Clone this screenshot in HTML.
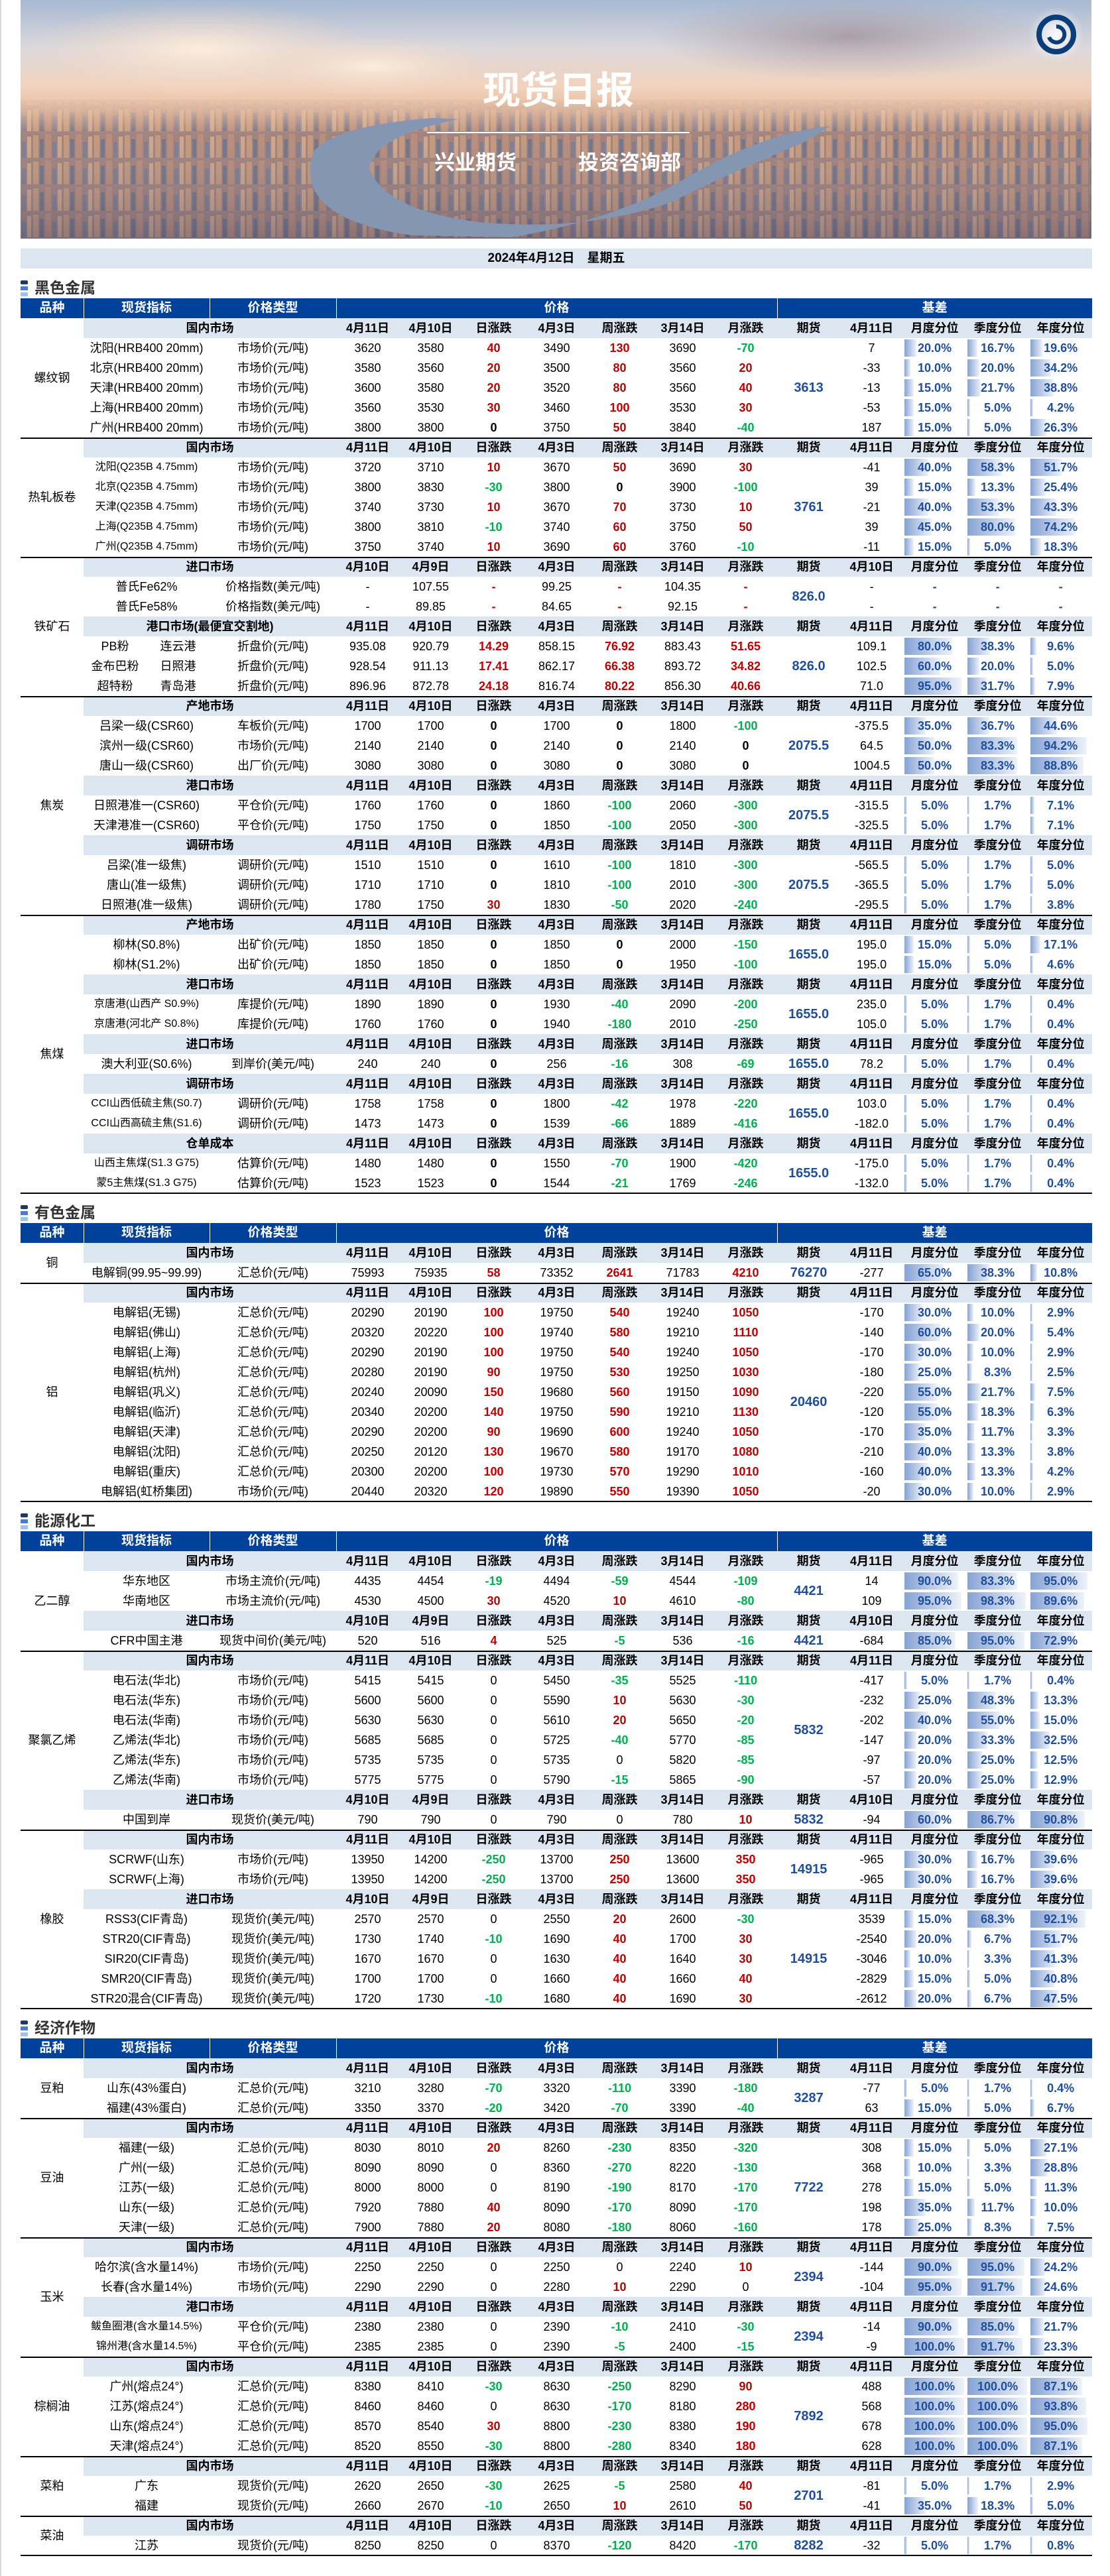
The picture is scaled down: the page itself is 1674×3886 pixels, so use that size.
<!DOCTYPE html>
<html><head><meta charset="utf-8">
<style>
*{margin:0;padding:0;box-sizing:border-box}
body{width:1674px;height:3886px;background:#fff;position:relative;font-family:"Liberation Sans","Noto Sans CJK SC",sans-serif;overflow:hidden;border-left:2px solid #d8d8d8}
.abs{position:absolute}
.date{left:29px;top:375px;width:1616px;height:30px;background:#dce6f1;text-align:center;font-weight:bold;font-size:19px;line-height:30px}
.ttl{left:29px;height:32px;font-size:23px;font-weight:bold;color:#333;line-height:32px;padding-left:21px}
.ttl i{position:absolute;left:0;width:11px;height:6px}
.ttl .a{top:5px;background:#1f3864;border-radius:2px}
.ttl .b{top:14px;background:#4a7bd0}
.ttl .c{top:23px;background:#9dc3e6}
table{position:absolute;left:29px;width:1616px;border-collapse:collapse;table-layout:fixed;font-size:18px}
td{height:30px;padding:0;line-height:24px;text-align:center;vertical-align:middle;white-space:nowrap;overflow:visible}
tr.top td{background:#00419b;color:#fff;font-weight:bold;font-size:19px;box-shadow:inset 1px 0 0 #fff}
tr.top td:first-child{box-shadow:none}
tr.h td{background:#dce6f1;font-weight:bold}
tr.h td.v{background:#fff}
tr.s td{box-shadow:inset 0 2px 0 #000}
.r{color:#c00000;font-weight:bold}
.g{color:#00b050;font-weight:bold}
.z{font-weight:bold}
.f{color:#1f4e9c;font-weight:bold;font-size:20px}
.bd{color:#1f4e9c;font-weight:bold}
td.p{position:relative}
td.p i{position:absolute;left:2px;top:2px;bottom:2px;background:linear-gradient(90deg,#86a3d4,#eef2f9)}
td.p em{position:relative;font-style:normal;color:#1f4e9c;font-weight:bold}
.sm{font-size:16px}
.two span{display:inline-block;width:95px;text-align:center}
.two{text-align:left}
.line{left:29px;width:1616px;height:2px;background:#000}
</style></head><body>

<svg class="abs" style="left:0;top:0" width="1674" height="362" viewBox="0 0 1674 362">
<defs>
<linearGradient id="sky" x1="0" y1="0" x2="0" y2="1">
<stop offset="0" stop-color="#a7b9d2"/><stop offset="0.2" stop-color="#dcd8dc"/><stop offset="0.36" stop-color="#f1d3bd"/><stop offset="0.44" stop-color="#e9c3a9"/><stop offset="0.5" stop-color="#c69c86"/><stop offset="0.75" stop-color="#8c7a82"/><stop offset="1" stop-color="#6f6170"/>
</linearGradient>
<radialGradient id="cl1" cx="0.5" cy="0.5" r="0.5"><stop offset="0" stop-color="#fdeedd" stop-opacity="0.95"/><stop offset="1" stop-color="#f3d6c0" stop-opacity="0"/></radialGradient>
<radialGradient id="cl2" cx="0.5" cy="0.5" r="0.5"><stop offset="0" stop-color="#9a8a94" stop-opacity="0.7"/><stop offset="1" stop-color="#a89aa4" stop-opacity="0"/></radialGradient>
<radialGradient id="lg" cx="0.5" cy="0.5" r="0.5"><stop offset="0" stop-color="#fff" stop-opacity="0.9"/><stop offset="1" stop-color="#fff" stop-opacity="0"/></radialGradient>
<pattern id="city" width="46" height="40" patternUnits="userSpaceOnUse">
<rect width="46" height="40" fill="#9a7f7e"/>
<rect x="2" y="4" width="8" height="34" fill="#c99c7c"/>
<rect x="12" y="10" width="6" height="28" fill="#5f6c88"/>
<rect x="20" y="2" width="9" height="36" fill="#b88d7c"/>
<rect x="31" y="14" width="6" height="24" fill="#6e7894"/>
<rect x="39" y="6" width="6" height="32" fill="#d6ad8e"/>
</pattern>
<linearGradient id="fade" x1="0" y1="0" x2="0" y2="1"><stop offset="0" stop-color="#e9c3a9" stop-opacity="1"/><stop offset="0.25" stop-color="#e9c3a9" stop-opacity="0"/><stop offset="1" stop-color="#5a5068" stop-opacity="0.35"/></linearGradient>
</defs>
<rect x="29" y="0" width="1615" height="360" fill="url(#sky)"/>
<ellipse cx="300" cy="75" rx="260" ry="70" fill="url(#cl1)"/>
<ellipse cx="560" cy="100" rx="180" ry="45" fill="url(#cl1)"/>
<ellipse cx="1280" cy="55" rx="300" ry="65" fill="url(#cl2)"/>
<rect x="29" y="150" width="1615" height="210" fill="url(#city)" opacity="0.75"/>
<rect x="29" y="150" width="1615" height="210" fill="url(#fade)"/>
<path d="M470 230 Q440 330 620 355 L770 358 Q930 330 1030 270 Q1150 200 1250 190 L1210 215 Q1090 265 1010 305 Q880 350 720 335 Q580 318 555 255 Q560 205 690 180 L650 178 Q500 190 470 230Z" fill="#8596b2"/>
<text x="840" y="156" text-anchor="middle" font-family="Liberation Sans,Noto Sans CJK SC,sans-serif" font-size="57" font-weight="bold" fill="#fff">现货日报</text>
<rect x="642" y="199" width="396" height="2" fill="#fff"/>
<text x="653" y="256" font-family="Liberation Sans,Noto Sans CJK SC,sans-serif" font-size="31" font-weight="bold" fill="#fff">兴业期货</text>
<text x="870" y="256" font-family="Liberation Sans,Noto Sans CJK SC,sans-serif" font-size="31" font-weight="bold" fill="#fff">投资咨询部</text>
<circle cx="1591" cy="52" r="42" fill="url(#lg)"/>
<circle cx="1591" cy="52" r="26" fill="none" stroke="#0b3d7a" stroke-width="8"/>
<path d="M1591 40 a12 12 0 1 1 -11 16" fill="none" stroke="#0b3d7a" stroke-width="6"/>
</svg>

<div class="abs date">2024年4月12日　星期五</div>

<div class="abs ttl" style="top:418px"><i class="a"></i><i class="b"></i><i class="c"></i>黑色金属</div>
<table style="top:450px">
<colgroup><col style="width:95px"><col style="width:190px"><col style="width:191px"><col span="12" style="width:95px"></colgroup>
<tr class="top"><td>品种</td><td>现货指标</td><td>价格类型</td><td colspan="7">价格</td><td colspan="5">基差</td></tr>
<tr class="h"><td class="v" rowspan="6" style="font-weight:normal">螺纹钢</td><td colspan="2">国内市场</td><td>4月11日</td><td>4月10日</td><td>日涨跌</td><td>4月3日</td><td>周涨跌</td><td>3月14日</td><td>月涨跌</td><td>期货</td><td>4月11日</td><td>月度分位</td><td>季度分位</td><td>年度分位</td></tr>
<tr><td>沈阳(HRB400 20mm)</td><td>市场价(元/吨)</td><td>3620</td><td>3580</td><td class="r">40</td><td>3490</td><td class="r">130</td><td>3690</td><td class="g">-70</td><td class="f" rowspan="5">3613</td><td>7</td><td class="p"><i style="width:18px"></i><em>20.0%</em></td><td class="p"><i style="width:15px"></i><em>16.7%</em></td><td class="p"><i style="width:18px"></i><em>19.6%</em></td></tr>
<tr><td>北京(HRB400 20mm)</td><td>市场价(元/吨)</td><td>3580</td><td>3560</td><td class="r">20</td><td>3500</td><td class="r">80</td><td>3560</td><td class="r">20</td><td>-33</td><td class="p"><i style="width:9px"></i><em>10.0%</em></td><td class="p"><i style="width:18px"></i><em>20.0%</em></td><td class="p"><i style="width:31px"></i><em>34.2%</em></td></tr>
<tr><td>天津(HRB400 20mm)</td><td>市场价(元/吨)</td><td>3600</td><td>3580</td><td class="r">20</td><td>3520</td><td class="r">80</td><td>3560</td><td class="r">40</td><td>-13</td><td class="p"><i style="width:14px"></i><em>15.0%</em></td><td class="p"><i style="width:20px"></i><em>21.7%</em></td><td class="p"><i style="width:35px"></i><em>38.8%</em></td></tr>
<tr><td>上海(HRB400 20mm)</td><td>市场价(元/吨)</td><td>3560</td><td>3530</td><td class="r">30</td><td>3460</td><td class="r">100</td><td>3530</td><td class="r">30</td><td>-53</td><td class="p"><i style="width:14px"></i><em>15.0%</em></td><td class="p"><i style="width:4px"></i><em>5.0%</em></td><td class="p"><i style="width:4px"></i><em>4.2%</em></td></tr>
<tr><td>广州(HRB400 20mm)</td><td>市场价(元/吨)</td><td>3800</td><td>3800</td><td class="z">0</td><td>3750</td><td class="r">50</td><td>3840</td><td class="g">-40</td><td>187</td><td class="p"><i style="width:14px"></i><em>15.0%</em></td><td class="p"><i style="width:4px"></i><em>5.0%</em></td><td class="p"><i style="width:24px"></i><em>26.3%</em></td></tr>

<tr class="h s"><td class="v" rowspan="6" style="font-weight:normal">热轧板卷</td><td colspan="2">国内市场</td><td>4月11日</td><td>4月10日</td><td>日涨跌</td><td>4月3日</td><td>周涨跌</td><td>3月14日</td><td>月涨跌</td><td>期货</td><td>4月11日</td><td>月度分位</td><td>季度分位</td><td>年度分位</td></tr>
<tr><td class="sm">沈阳(Q235B 4.75mm)</td><td>市场价(元/吨)</td><td>3720</td><td>3710</td><td class="r">10</td><td>3670</td><td class="r">50</td><td>3690</td><td class="r">30</td><td class="f" rowspan="5">3761</td><td>-41</td><td class="p"><i style="width:36px"></i><em>40.0%</em></td><td class="p"><i style="width:52px"></i><em>58.3%</em></td><td class="p"><i style="width:47px"></i><em>51.7%</em></td></tr>
<tr><td class="sm">北京(Q235B 4.75mm)</td><td>市场价(元/吨)</td><td>3800</td><td>3830</td><td class="g">-30</td><td>3800</td><td class="z">0</td><td>3900</td><td class="g">-100</td><td>39</td><td class="p"><i style="width:14px"></i><em>15.0%</em></td><td class="p"><i style="width:12px"></i><em>13.3%</em></td><td class="p"><i style="width:23px"></i><em>25.4%</em></td></tr>
<tr><td class="sm">天津(Q235B 4.75mm)</td><td>市场价(元/吨)</td><td>3740</td><td>3730</td><td class="r">10</td><td>3670</td><td class="r">70</td><td>3730</td><td class="r">10</td><td>-21</td><td class="p"><i style="width:36px"></i><em>40.0%</em></td><td class="p"><i style="width:48px"></i><em>53.3%</em></td><td class="p"><i style="width:39px"></i><em>43.3%</em></td></tr>
<tr><td class="sm">上海(Q235B 4.75mm)</td><td>市场价(元/吨)</td><td>3800</td><td>3810</td><td class="g">-10</td><td>3740</td><td class="r">60</td><td>3750</td><td class="r">50</td><td>39</td><td class="p"><i style="width:41px"></i><em>45.0%</em></td><td class="p"><i style="width:72px"></i><em>80.0%</em></td><td class="p"><i style="width:67px"></i><em>74.2%</em></td></tr>
<tr><td class="sm">广州(Q235B 4.75mm)</td><td>市场价(元/吨)</td><td>3750</td><td>3740</td><td class="r">10</td><td>3690</td><td class="r">60</td><td>3760</td><td class="g">-10</td><td>-11</td><td class="p"><i style="width:14px"></i><em>15.0%</em></td><td class="p"><i style="width:4px"></i><em>5.0%</em></td><td class="p"><i style="width:16px"></i><em>18.3%</em></td></tr>

<tr class="h s"><td class="v" rowspan="7" style="font-weight:normal">铁矿石</td><td colspan="2">进口市场</td><td>4月10日</td><td>4月9日</td><td>日涨跌</td><td>4月3日</td><td>周涨跌</td><td>3月14日</td><td>月涨跌</td><td>期货</td><td>4月10日</td><td>月度分位</td><td>季度分位</td><td>年度分位</td></tr>
<tr><td>普氏Fe62%</td><td>价格指数(美元/吨)</td><td>-</td><td>107.55</td><td class="r">-</td><td>99.25</td><td class="r">-</td><td>104.35</td><td class="r">-</td><td class="f" rowspan="2">826.0</td><td>-</td><td class="bd">-</td><td class="bd">-</td><td class="bd">-</td></tr>
<tr><td>普氏Fe58%</td><td>价格指数(美元/吨)</td><td>-</td><td>89.85</td><td class="r">-</td><td>84.65</td><td class="r">-</td><td>92.15</td><td class="r">-</td><td>-</td><td class="bd">-</td><td class="bd">-</td><td class="bd">-</td></tr>
<tr class="h"><td colspan="2">港口市场(最便宜交割地)</td><td>4月11日</td><td>4月10日</td><td>日涨跌</td><td>4月3日</td><td>周涨跌</td><td>3月14日</td><td>月涨跌</td><td>期货</td><td>4月11日</td><td>月度分位</td><td>季度分位</td><td>年度分位</td></tr>
<tr><td class="two"><span>PB粉</span><span>连云港</span></td><td>折盘价(元/吨)</td><td>935.08</td><td>920.79</td><td class="r">14.29</td><td>858.15</td><td class="r">76.92</td><td>883.43</td><td class="r">51.65</td><td class="f" rowspan="3">826.0</td><td>109.1</td><td class="p"><i style="width:72px"></i><em>80.0%</em></td><td class="p"><i style="width:34px"></i><em>38.3%</em></td><td class="p"><i style="width:9px"></i><em>9.6%</em></td></tr>
<tr><td class="two"><span>金布巴粉</span><span>日照港</span></td><td>折盘价(元/吨)</td><td>928.54</td><td>911.13</td><td class="r">17.41</td><td>862.17</td><td class="r">66.38</td><td>893.72</td><td class="r">34.82</td><td>102.5</td><td class="p"><i style="width:54px"></i><em>60.0%</em></td><td class="p"><i style="width:18px"></i><em>20.0%</em></td><td class="p"><i style="width:4px"></i><em>5.0%</em></td></tr>
<tr><td class="two"><span>超特粉</span><span>青岛港</span></td><td>折盘价(元/吨)</td><td>896.96</td><td>872.78</td><td class="r">24.18</td><td>816.74</td><td class="r">80.22</td><td>856.30</td><td class="r">40.66</td><td>71.0</td><td class="p"><i style="width:86px"></i><em>95.0%</em></td><td class="p"><i style="width:29px"></i><em>31.7%</em></td><td class="p"><i style="width:7px"></i><em>7.9%</em></td></tr>

<tr class="h s"><td class="v" rowspan="11" style="font-weight:normal">焦炭</td><td colspan="2">产地市场</td><td>4月11日</td><td>4月10日</td><td>日涨跌</td><td>4月3日</td><td>周涨跌</td><td>3月14日</td><td>月涨跌</td><td>期货</td><td>4月11日</td><td>月度分位</td><td>季度分位</td><td>年度分位</td></tr>
<tr><td>吕梁一级(CSR60)</td><td>车板价(元/吨)</td><td>1700</td><td>1700</td><td class="z">0</td><td>1700</td><td class="z">0</td><td>1800</td><td class="g">-100</td><td class="f" rowspan="3">2075.5</td><td>-375.5</td><td class="p"><i style="width:32px"></i><em>35.0%</em></td><td class="p"><i style="width:33px"></i><em>36.7%</em></td><td class="p"><i style="width:40px"></i><em>44.6%</em></td></tr>
<tr><td>滨州一级(CSR60)</td><td>市场价(元/吨)</td><td>2140</td><td>2140</td><td class="z">0</td><td>2140</td><td class="z">0</td><td>2140</td><td class="z">0</td><td>64.5</td><td class="p"><i style="width:45px"></i><em>50.0%</em></td><td class="p"><i style="width:75px"></i><em>83.3%</em></td><td class="p"><i style="width:85px"></i><em>94.2%</em></td></tr>
<tr><td>唐山一级(CSR60)</td><td>出厂价(元/吨)</td><td>3080</td><td>3080</td><td class="z">0</td><td>3080</td><td class="z">0</td><td>3080</td><td class="z">0</td><td>1004.5</td><td class="p"><i style="width:45px"></i><em>50.0%</em></td><td class="p"><i style="width:75px"></i><em>83.3%</em></td><td class="p"><i style="width:80px"></i><em>88.8%</em></td></tr>
<tr class="h"><td colspan="2">港口市场</td><td>4月11日</td><td>4月10日</td><td>日涨跌</td><td>4月3日</td><td>周涨跌</td><td>3月14日</td><td>月涨跌</td><td>期货</td><td>4月11日</td><td>月度分位</td><td>季度分位</td><td>年度分位</td></tr>
<tr><td>日照港准一(CSR60)</td><td>平仓价(元/吨)</td><td>1760</td><td>1760</td><td class="z">0</td><td>1860</td><td class="g">-100</td><td>2060</td><td class="g">-300</td><td class="f" rowspan="2">2075.5</td><td>-315.5</td><td class="p"><i style="width:4px"></i><em>5.0%</em></td><td class="p"><i style="width:3px"></i><em>1.7%</em></td><td class="p"><i style="width:6px"></i><em>7.1%</em></td></tr>
<tr><td>天津港准一(CSR60)</td><td>平仓价(元/吨)</td><td>1750</td><td>1750</td><td class="z">0</td><td>1850</td><td class="g">-100</td><td>2050</td><td class="g">-300</td><td>-325.5</td><td class="p"><i style="width:4px"></i><em>5.0%</em></td><td class="p"><i style="width:3px"></i><em>1.7%</em></td><td class="p"><i style="width:6px"></i><em>7.1%</em></td></tr>
<tr class="h"><td colspan="2">调研市场</td><td>4月11日</td><td>4月10日</td><td>日涨跌</td><td>4月3日</td><td>周涨跌</td><td>3月14日</td><td>月涨跌</td><td>期货</td><td>4月11日</td><td>月度分位</td><td>季度分位</td><td>年度分位</td></tr>
<tr><td>吕梁(准一级焦)</td><td>调研价(元/吨)</td><td>1510</td><td>1510</td><td class="z">0</td><td>1610</td><td class="g">-100</td><td>1810</td><td class="g">-300</td><td class="f" rowspan="3">2075.5</td><td>-565.5</td><td class="p"><i style="width:4px"></i><em>5.0%</em></td><td class="p"><i style="width:3px"></i><em>1.7%</em></td><td class="p"><i style="width:4px"></i><em>5.0%</em></td></tr>
<tr><td>唐山(准一级焦)</td><td>调研价(元/吨)</td><td>1710</td><td>1710</td><td class="z">0</td><td>1810</td><td class="g">-100</td><td>2010</td><td class="g">-300</td><td>-365.5</td><td class="p"><i style="width:4px"></i><em>5.0%</em></td><td class="p"><i style="width:3px"></i><em>1.7%</em></td><td class="p"><i style="width:4px"></i><em>5.0%</em></td></tr>
<tr><td>日照港(准一级焦)</td><td>调研价(元/吨)</td><td>1780</td><td>1750</td><td class="r">30</td><td>1830</td><td class="g">-50</td><td>2020</td><td class="g">-240</td><td>-295.5</td><td class="p"><i style="width:4px"></i><em>5.0%</em></td><td class="p"><i style="width:3px"></i><em>1.7%</em></td><td class="p"><i style="width:3px"></i><em>3.8%</em></td></tr>

<tr class="h s"><td class="v" rowspan="14" style="font-weight:normal">焦煤</td><td colspan="2">产地市场</td><td>4月11日</td><td>4月10日</td><td>日涨跌</td><td>4月3日</td><td>周涨跌</td><td>3月14日</td><td>月涨跌</td><td>期货</td><td>4月11日</td><td>月度分位</td><td>季度分位</td><td>年度分位</td></tr>
<tr><td>柳林(S0.8%)</td><td>出矿价(元/吨)</td><td>1850</td><td>1850</td><td class="z">0</td><td>1850</td><td class="z">0</td><td>2000</td><td class="g">-150</td><td class="f" rowspan="2">1655.0</td><td>195.0</td><td class="p"><i style="width:14px"></i><em>15.0%</em></td><td class="p"><i style="width:4px"></i><em>5.0%</em></td><td class="p"><i style="width:15px"></i><em>17.1%</em></td></tr>
<tr><td>柳林(S1.2%)</td><td>出矿价(元/吨)</td><td>1850</td><td>1850</td><td class="z">0</td><td>1850</td><td class="z">0</td><td>1950</td><td class="g">-100</td><td>195.0</td><td class="p"><i style="width:14px"></i><em>15.0%</em></td><td class="p"><i style="width:4px"></i><em>5.0%</em></td><td class="p"><i style="width:4px"></i><em>4.6%</em></td></tr>
<tr class="h"><td colspan="2">港口市场</td><td>4月11日</td><td>4月10日</td><td>日涨跌</td><td>4月3日</td><td>周涨跌</td><td>3月14日</td><td>月涨跌</td><td>期货</td><td>4月11日</td><td>月度分位</td><td>季度分位</td><td>年度分位</td></tr>
<tr><td class="sm">京唐港(山西产 S0.9%)</td><td>库提价(元/吨)</td><td>1890</td><td>1890</td><td class="z">0</td><td>1930</td><td class="g">-40</td><td>2090</td><td class="g">-200</td><td class="f" rowspan="2">1655.0</td><td>235.0</td><td class="p"><i style="width:4px"></i><em>5.0%</em></td><td class="p"><i style="width:3px"></i><em>1.7%</em></td><td class="p"><i style="width:3px"></i><em>0.4%</em></td></tr>
<tr><td class="sm">京唐港(河北产 S0.8%)</td><td>库提价(元/吨)</td><td>1760</td><td>1760</td><td class="z">0</td><td>1940</td><td class="g">-180</td><td>2010</td><td class="g">-250</td><td>105.0</td><td class="p"><i style="width:4px"></i><em>5.0%</em></td><td class="p"><i style="width:3px"></i><em>1.7%</em></td><td class="p"><i style="width:3px"></i><em>0.4%</em></td></tr>
<tr class="h"><td colspan="2">进口市场</td><td>4月11日</td><td>4月10日</td><td>日涨跌</td><td>4月3日</td><td>周涨跌</td><td>3月14日</td><td>月涨跌</td><td>期货</td><td>4月11日</td><td>月度分位</td><td>季度分位</td><td>年度分位</td></tr>
<tr><td>澳大利亚(S0.6%)</td><td>到岸价(美元/吨)</td><td>240</td><td>240</td><td class="z">0</td><td>256</td><td class="g">-16</td><td>308</td><td class="g">-69</td><td class="f">1655.0</td><td>78.2</td><td class="p"><i style="width:4px"></i><em>5.0%</em></td><td class="p"><i style="width:3px"></i><em>1.7%</em></td><td class="p"><i style="width:3px"></i><em>0.4%</em></td></tr>
<tr class="h"><td colspan="2">调研市场</td><td>4月11日</td><td>4月10日</td><td>日涨跌</td><td>4月3日</td><td>周涨跌</td><td>3月14日</td><td>月涨跌</td><td>期货</td><td>4月11日</td><td>月度分位</td><td>季度分位</td><td>年度分位</td></tr>
<tr><td class="sm">CCI山西低硫主焦(S0.7)</td><td>调研价(元/吨)</td><td>1758</td><td>1758</td><td class="z">0</td><td>1800</td><td class="g">-42</td><td>1978</td><td class="g">-220</td><td class="f" rowspan="2">1655.0</td><td>103.0</td><td class="p"><i style="width:4px"></i><em>5.0%</em></td><td class="p"><i style="width:3px"></i><em>1.7%</em></td><td class="p"><i style="width:3px"></i><em>0.4%</em></td></tr>
<tr><td class="sm">CCI山西高硫主焦(S1.6)</td><td>调研价(元/吨)</td><td>1473</td><td>1473</td><td class="z">0</td><td>1539</td><td class="g">-66</td><td>1889</td><td class="g">-416</td><td>-182.0</td><td class="p"><i style="width:4px"></i><em>5.0%</em></td><td class="p"><i style="width:3px"></i><em>1.7%</em></td><td class="p"><i style="width:3px"></i><em>0.4%</em></td></tr>
<tr class="h"><td colspan="2">仓单成本</td><td>4月11日</td><td>4月10日</td><td>日涨跌</td><td>4月3日</td><td>周涨跌</td><td>3月14日</td><td>月涨跌</td><td>期货</td><td>4月11日</td><td>月度分位</td><td>季度分位</td><td>年度分位</td></tr>
<tr><td class="sm">山西主焦煤(S1.3 G75)</td><td>估算价(元/吨)</td><td>1480</td><td>1480</td><td class="z">0</td><td>1550</td><td class="g">-70</td><td>1900</td><td class="g">-420</td><td class="f" rowspan="2">1655.0</td><td>-175.0</td><td class="p"><i style="width:4px"></i><em>5.0%</em></td><td class="p"><i style="width:3px"></i><em>1.7%</em></td><td class="p"><i style="width:3px"></i><em>0.4%</em></td></tr>
<tr><td class="sm">蒙5主焦煤(S1.3 G75)</td><td>估算价(元/吨)</td><td>1523</td><td>1523</td><td class="z">0</td><td>1544</td><td class="g">-21</td><td>1769</td><td class="g">-246</td><td>-132.0</td><td class="p"><i style="width:4px"></i><em>5.0%</em></td><td class="p"><i style="width:3px"></i><em>1.7%</em></td><td class="p"><i style="width:3px"></i><em>0.4%</em></td></tr>
</table>
<div class="abs line" style="top:1799px"></div>

<div class="abs ttl" style="top:1813px"><i class="a"></i><i class="b"></i><i class="c"></i>有色金属</div>
<table style="top:1845px">
<colgroup><col style="width:95px"><col style="width:190px"><col style="width:191px"><col span="12" style="width:95px"></colgroup>
<tr class="top"><td>品种</td><td>现货指标</td><td>价格类型</td><td colspan="7">价格</td><td colspan="5">基差</td></tr>
<tr class="h"><td class="v" rowspan="2" style="font-weight:normal">铜</td><td colspan="2">国内市场</td><td>4月11日</td><td>4月10日</td><td>日涨跌</td><td>4月3日</td><td>周涨跌</td><td>3月14日</td><td>月涨跌</td><td>期货</td><td>4月11日</td><td>月度分位</td><td>季度分位</td><td>年度分位</td></tr>
<tr><td>电解铜(99.95~99.99)</td><td>汇总价(元/吨)</td><td>75993</td><td>75935</td><td class="r">58</td><td>73352</td><td class="r">2641</td><td>71783</td><td class="r">4210</td><td class="f">76270</td><td>-277</td><td class="p"><i style="width:59px"></i><em>65.0%</em></td><td class="p"><i style="width:34px"></i><em>38.3%</em></td><td class="p"><i style="width:10px"></i><em>10.8%</em></td></tr>
<tr class="h s"><td class="v" rowspan="11" style="font-weight:normal">铝</td><td colspan="2">国内市场</td><td>4月11日</td><td>4月10日</td><td>日涨跌</td><td>4月3日</td><td>周涨跌</td><td>3月14日</td><td>月涨跌</td><td>期货</td><td>4月11日</td><td>月度分位</td><td>季度分位</td><td>年度分位</td></tr>
<tr><td>电解铝(无锡)</td><td>汇总价(元/吨)</td><td>20290</td><td>20190</td><td class="r">100</td><td>19750</td><td class="r">540</td><td>19240</td><td class="r">1050</td><td class="f" rowspan="10">20460</td><td>-170</td><td class="p"><i style="width:27px"></i><em>30.0%</em></td><td class="p"><i style="width:9px"></i><em>10.0%</em></td><td class="p"><i style="width:3px"></i><em>2.9%</em></td></tr>
<tr><td>电解铝(佛山)</td><td>汇总价(元/吨)</td><td>20320</td><td>20220</td><td class="r">100</td><td>19740</td><td class="r">580</td><td>19210</td><td class="r">1110</td><td>-140</td><td class="p"><i style="width:54px"></i><em>60.0%</em></td><td class="p"><i style="width:18px"></i><em>20.0%</em></td><td class="p"><i style="width:5px"></i><em>5.4%</em></td></tr>
<tr><td>电解铝(上海)</td><td>汇总价(元/吨)</td><td>20290</td><td>20190</td><td class="r">100</td><td>19750</td><td class="r">540</td><td>19240</td><td class="r">1050</td><td>-170</td><td class="p"><i style="width:27px"></i><em>30.0%</em></td><td class="p"><i style="width:9px"></i><em>10.0%</em></td><td class="p"><i style="width:3px"></i><em>2.9%</em></td></tr>
<tr><td>电解铝(杭州)</td><td>汇总价(元/吨)</td><td>20280</td><td>20190</td><td class="r">90</td><td>19750</td><td class="r">530</td><td>19250</td><td class="r">1030</td><td>-180</td><td class="p"><i style="width:23px"></i><em>25.0%</em></td><td class="p"><i style="width:7px"></i><em>8.3%</em></td><td class="p"><i style="width:3px"></i><em>2.5%</em></td></tr>
<tr><td>电解铝(巩义)</td><td>汇总价(元/吨)</td><td>20240</td><td>20090</td><td class="r">150</td><td>19680</td><td class="r">560</td><td>19150</td><td class="r">1090</td><td>-220</td><td class="p"><i style="width:50px"></i><em>55.0%</em></td><td class="p"><i style="width:20px"></i><em>21.7%</em></td><td class="p"><i style="width:7px"></i><em>7.5%</em></td></tr>
<tr><td>电解铝(临沂)</td><td>汇总价(元/吨)</td><td>20340</td><td>20200</td><td class="r">140</td><td>19750</td><td class="r">590</td><td>19210</td><td class="r">1130</td><td>-120</td><td class="p"><i style="width:50px"></i><em>55.0%</em></td><td class="p"><i style="width:16px"></i><em>18.3%</em></td><td class="p"><i style="width:6px"></i><em>6.3%</em></td></tr>
<tr><td>电解铝(天津)</td><td>汇总价(元/吨)</td><td>20290</td><td>20200</td><td class="r">90</td><td>19690</td><td class="r">600</td><td>19240</td><td class="r">1050</td><td>-170</td><td class="p"><i style="width:32px"></i><em>35.0%</em></td><td class="p"><i style="width:11px"></i><em>11.7%</em></td><td class="p"><i style="width:3px"></i><em>3.3%</em></td></tr>
<tr><td>电解铝(沈阳)</td><td>汇总价(元/吨)</td><td>20250</td><td>20120</td><td class="r">130</td><td>19670</td><td class="r">580</td><td>19170</td><td class="r">1080</td><td>-210</td><td class="p"><i style="width:36px"></i><em>40.0%</em></td><td class="p"><i style="width:12px"></i><em>13.3%</em></td><td class="p"><i style="width:3px"></i><em>3.8%</em></td></tr>
<tr><td>电解铝(重庆)</td><td>汇总价(元/吨)</td><td>20300</td><td>20200</td><td class="r">100</td><td>19730</td><td class="r">570</td><td>19290</td><td class="r">1010</td><td>-160</td><td class="p"><i style="width:36px"></i><em>40.0%</em></td><td class="p"><i style="width:12px"></i><em>13.3%</em></td><td class="p"><i style="width:4px"></i><em>4.2%</em></td></tr>
<tr><td>电解铝(虹桥集团)</td><td>市场价(元/吨)</td><td>20440</td><td>20320</td><td class="r">120</td><td>19890</td><td class="r">550</td><td>19390</td><td class="r">1050</td><td>-20</td><td class="p"><i style="width:27px"></i><em>30.0%</em></td><td class="p"><i style="width:9px"></i><em>10.0%</em></td><td class="p"><i style="width:3px"></i><em>2.9%</em></td></tr>
</table>
<div class="abs line" style="top:2264px"></div>

<div class="abs ttl" style="top:2278px"><i class="a"></i><i class="b"></i><i class="c"></i>能源化工</div>
<table style="top:2310px">
<colgroup><col style="width:95px"><col style="width:190px"><col style="width:191px"><col span="12" style="width:95px"></colgroup>
<tr class="top"><td>品种</td><td>现货指标</td><td>价格类型</td><td colspan="7">价格</td><td colspan="5">基差</td></tr>
<tr class="h"><td class="v" rowspan="5" style="font-weight:normal">乙二醇</td><td colspan="2">国内市场</td><td>4月11日</td><td>4月10日</td><td>日涨跌</td><td>4月3日</td><td>周涨跌</td><td>3月14日</td><td>月涨跌</td><td>期货</td><td>4月11日</td><td>月度分位</td><td>季度分位</td><td>年度分位</td></tr>
<tr><td>华东地区</td><td>市场主流价(元/吨)</td><td>4435</td><td>4454</td><td class="g">-19</td><td>4494</td><td class="g">-59</td><td>4544</td><td class="g">-109</td><td class="f" rowspan="2">4421</td><td>14</td><td class="p"><i style="width:81px"></i><em>90.0%</em></td><td class="p"><i style="width:75px"></i><em>83.3%</em></td><td class="p"><i style="width:86px"></i><em>95.0%</em></td></tr>
<tr><td>华南地区</td><td>市场主流价(元/吨)</td><td>4530</td><td>4500</td><td class="r">30</td><td>4520</td><td class="r">10</td><td>4610</td><td class="g">-80</td><td>109</td><td class="p"><i style="width:86px"></i><em>95.0%</em></td><td class="p"><i style="width:88px"></i><em>98.3%</em></td><td class="p"><i style="width:81px"></i><em>89.6%</em></td></tr>
<tr class="h"><td colspan="2">进口市场</td><td>4月10日</td><td>4月9日</td><td>日涨跌</td><td>4月3日</td><td>周涨跌</td><td>3月14日</td><td>月涨跌</td><td>期货</td><td>4月10日</td><td>月度分位</td><td>季度分位</td><td>年度分位</td></tr>
<tr><td>CFR中国主港</td><td>现货中间价(美元/吨)</td><td>520</td><td>516</td><td class="r">4</td><td>525</td><td class="g">-5</td><td>536</td><td class="g">-16</td><td class="f">4421</td><td>-684</td><td class="p"><i style="width:77px"></i><em>85.0%</em></td><td class="p"><i style="width:86px"></i><em>95.0%</em></td><td class="p"><i style="width:66px"></i><em>72.9%</em></td></tr>

<tr class="h s"><td class="v" rowspan="9" style="font-weight:normal">聚氯乙烯</td><td colspan="2">国内市场</td><td>4月11日</td><td>4月10日</td><td>日涨跌</td><td>4月3日</td><td>周涨跌</td><td>3月14日</td><td>月涨跌</td><td>期货</td><td>4月11日</td><td>月度分位</td><td>季度分位</td><td>年度分位</td></tr>
<tr><td>电石法(华北)</td><td>市场价(元/吨)</td><td>5415</td><td>5415</td><td>0</td><td>5450</td><td class="g">-35</td><td>5525</td><td class="g">-110</td><td class="f" rowspan="6">5832</td><td>-417</td><td class="p"><i style="width:4px"></i><em>5.0%</em></td><td class="p"><i style="width:3px"></i><em>1.7%</em></td><td class="p"><i style="width:3px"></i><em>0.4%</em></td></tr>
<tr><td>电石法(华东)</td><td>市场价(元/吨)</td><td>5600</td><td>5600</td><td>0</td><td>5590</td><td class="r">10</td><td>5630</td><td class="g">-30</td><td>-232</td><td class="p"><i style="width:23px"></i><em>25.0%</em></td><td class="p"><i style="width:43px"></i><em>48.3%</em></td><td class="p"><i style="width:12px"></i><em>13.3%</em></td></tr>
<tr><td>电石法(华南)</td><td>市场价(元/吨)</td><td>5630</td><td>5630</td><td>0</td><td>5610</td><td class="r">20</td><td>5650</td><td class="g">-20</td><td>-202</td><td class="p"><i style="width:36px"></i><em>40.0%</em></td><td class="p"><i style="width:50px"></i><em>55.0%</em></td><td class="p"><i style="width:14px"></i><em>15.0%</em></td></tr>
<tr><td>乙烯法(华北)</td><td>市场价(元/吨)</td><td>5685</td><td>5685</td><td>0</td><td>5725</td><td class="g">-40</td><td>5770</td><td class="g">-85</td><td>-147</td><td class="p"><i style="width:18px"></i><em>20.0%</em></td><td class="p"><i style="width:30px"></i><em>33.3%</em></td><td class="p"><i style="width:29px"></i><em>32.5%</em></td></tr>
<tr><td>乙烯法(华东)</td><td>市场价(元/吨)</td><td>5735</td><td>5735</td><td>0</td><td>5735</td><td>0</td><td>5820</td><td class="g">-85</td><td>-97</td><td class="p"><i style="width:18px"></i><em>20.0%</em></td><td class="p"><i style="width:23px"></i><em>25.0%</em></td><td class="p"><i style="width:11px"></i><em>12.5%</em></td></tr>
<tr><td>乙烯法(华南)</td><td>市场价(元/吨)</td><td>5775</td><td>5775</td><td>0</td><td>5790</td><td class="g">-15</td><td>5865</td><td class="g">-90</td><td>-57</td><td class="p"><i style="width:18px"></i><em>20.0%</em></td><td class="p"><i style="width:23px"></i><em>25.0%</em></td><td class="p"><i style="width:12px"></i><em>12.9%</em></td></tr>
<tr class="h"><td colspan="2">进口市场</td><td>4月10日</td><td>4月9日</td><td>日涨跌</td><td>4月3日</td><td>周涨跌</td><td>3月14日</td><td>月涨跌</td><td>期货</td><td>4月10日</td><td>月度分位</td><td>季度分位</td><td>年度分位</td></tr>
<tr><td>中国到岸</td><td>现货价(美元/吨)</td><td>790</td><td>790</td><td>0</td><td>790</td><td>0</td><td>780</td><td class="r">10</td><td class="f">5832</td><td>-94</td><td class="p"><i style="width:54px"></i><em>60.0%</em></td><td class="p"><i style="width:78px"></i><em>86.7%</em></td><td class="p"><i style="width:82px"></i><em>90.8%</em></td></tr>

<tr class="h s"><td class="v" rowspan="9" style="font-weight:normal">橡胶</td><td colspan="2">国内市场</td><td>4月11日</td><td>4月10日</td><td>日涨跌</td><td>4月3日</td><td>周涨跌</td><td>3月14日</td><td>月涨跌</td><td>期货</td><td>4月11日</td><td>月度分位</td><td>季度分位</td><td>年度分位</td></tr>
<tr><td>SCRWF(山东)</td><td>市场价(元/吨)</td><td>13950</td><td>14200</td><td class="g">-250</td><td>13700</td><td class="r">250</td><td>13600</td><td class="r">350</td><td class="f" rowspan="2">14915</td><td>-965</td><td class="p"><i style="width:27px"></i><em>30.0%</em></td><td class="p"><i style="width:15px"></i><em>16.7%</em></td><td class="p"><i style="width:36px"></i><em>39.6%</em></td></tr>
<tr><td>SCRWF(上海)</td><td>市场价(元/吨)</td><td>13950</td><td>14200</td><td class="g">-250</td><td>13700</td><td class="r">250</td><td>13600</td><td class="r">350</td><td>-965</td><td class="p"><i style="width:27px"></i><em>30.0%</em></td><td class="p"><i style="width:15px"></i><em>16.7%</em></td><td class="p"><i style="width:36px"></i><em>39.6%</em></td></tr>
<tr class="h"><td colspan="2">进口市场</td><td>4月10日</td><td>4月9日</td><td>日涨跌</td><td>4月3日</td><td>周涨跌</td><td>3月14日</td><td>月涨跌</td><td>期货</td><td>4月11日</td><td>月度分位</td><td>季度分位</td><td>年度分位</td></tr>
<tr><td>RSS3(CIF青岛)</td><td>现货价(美元/吨)</td><td>2570</td><td>2570</td><td>0</td><td>2550</td><td class="r">20</td><td>2600</td><td class="g">-30</td><td class="f" rowspan="5">14915</td><td>3539</td><td class="p"><i style="width:14px"></i><em>15.0%</em></td><td class="p"><i style="width:61px"></i><em>68.3%</em></td><td class="p"><i style="width:83px"></i><em>92.1%</em></td></tr>
<tr><td>STR20(CIF青岛)</td><td>现货价(美元/吨)</td><td>1730</td><td>1740</td><td class="g">-10</td><td>1690</td><td class="r">40</td><td>1700</td><td class="r">30</td><td>-2540</td><td class="p"><i style="width:18px"></i><em>20.0%</em></td><td class="p"><i style="width:6px"></i><em>6.7%</em></td><td class="p"><i style="width:47px"></i><em>51.7%</em></td></tr>
<tr><td>SIR20(CIF青岛)</td><td>现货价(美元/吨)</td><td>1670</td><td>1670</td><td>0</td><td>1630</td><td class="r">40</td><td>1640</td><td class="r">30</td><td>-3046</td><td class="p"><i style="width:9px"></i><em>10.0%</em></td><td class="p"><i style="width:3px"></i><em>3.3%</em></td><td class="p"><i style="width:37px"></i><em>41.3%</em></td></tr>
<tr><td>SMR20(CIF青岛)</td><td>现货价(美元/吨)</td><td>1700</td><td>1700</td><td>0</td><td>1660</td><td class="r">40</td><td>1660</td><td class="r">40</td><td>-2829</td><td class="p"><i style="width:14px"></i><em>15.0%</em></td><td class="p"><i style="width:4px"></i><em>5.0%</em></td><td class="p"><i style="width:37px"></i><em>40.8%</em></td></tr>
<tr><td>STR20混合(CIF青岛)</td><td>现货价(美元/吨)</td><td>1720</td><td>1730</td><td class="g">-10</td><td>1680</td><td class="r">40</td><td>1690</td><td class="r">30</td><td>-2612</td><td class="p"><i style="width:18px"></i><em>20.0%</em></td><td class="p"><i style="width:6px"></i><em>6.7%</em></td><td class="p"><i style="width:43px"></i><em>47.5%</em></td></tr>
</table>
<div class="abs line" style="top:3029px"></div>

<div class="abs ttl" style="top:3043px"><i class="a"></i><i class="b"></i><i class="c"></i>经济作物</div>
<table style="top:3075px">
<colgroup><col style="width:95px"><col style="width:190px"><col style="width:191px"><col span="12" style="width:95px"></colgroup>
<tr class="top"><td>品种</td><td>现货指标</td><td>价格类型</td><td colspan="7">价格</td><td colspan="5">基差</td></tr>
<tr class="h"><td class="v" rowspan="3" style="font-weight:normal">豆粕</td><td colspan="2">国内市场</td><td>4月11日</td><td>4月10日</td><td>日涨跌</td><td>4月3日</td><td>周涨跌</td><td>3月14日</td><td>月涨跌</td><td>期货</td><td>4月11日</td><td>月度分位</td><td>季度分位</td><td>年度分位</td></tr>
<tr><td>山东(43%蛋白)</td><td>汇总价(元/吨)</td><td>3210</td><td>3280</td><td class="g">-70</td><td>3320</td><td class="g">-110</td><td>3390</td><td class="g">-180</td><td class="f" rowspan="2">3287</td><td>-77</td><td class="p"><i style="width:4px"></i><em>5.0%</em></td><td class="p"><i style="width:3px"></i><em>1.7%</em></td><td class="p"><i style="width:3px"></i><em>0.4%</em></td></tr>
<tr><td>福建(43%蛋白)</td><td>汇总价(元/吨)</td><td>3350</td><td>3370</td><td class="g">-20</td><td>3420</td><td class="g">-70</td><td>3390</td><td class="g">-40</td><td>63</td><td class="p"><i style="width:14px"></i><em>15.0%</em></td><td class="p"><i style="width:4px"></i><em>5.0%</em></td><td class="p"><i style="width:6px"></i><em>6.7%</em></td></tr>

<tr class="h s"><td class="v" rowspan="6" style="font-weight:normal">豆油</td><td colspan="2">国内市场</td><td>4月11日</td><td>4月10日</td><td>日涨跌</td><td>4月3日</td><td>周涨跌</td><td>3月14日</td><td>月涨跌</td><td>期货</td><td>4月11日</td><td>月度分位</td><td>季度分位</td><td>年度分位</td></tr>
<tr><td>福建(一级)</td><td>汇总价(元/吨)</td><td>8030</td><td>8010</td><td class="r">20</td><td>8260</td><td class="g">-230</td><td>8350</td><td class="g">-320</td><td class="f" rowspan="5">7722</td><td>308</td><td class="p"><i style="width:14px"></i><em>15.0%</em></td><td class="p"><i style="width:4px"></i><em>5.0%</em></td><td class="p"><i style="width:24px"></i><em>27.1%</em></td></tr>
<tr><td>广州(一级)</td><td>汇总价(元/吨)</td><td>8090</td><td>8090</td><td>0</td><td>8360</td><td class="g">-270</td><td>8220</td><td class="g">-130</td><td>368</td><td class="p"><i style="width:9px"></i><em>10.0%</em></td><td class="p"><i style="width:3px"></i><em>3.3%</em></td><td class="p"><i style="width:26px"></i><em>28.8%</em></td></tr>
<tr><td>江苏(一级)</td><td>汇总价(元/吨)</td><td>8000</td><td>8000</td><td>0</td><td>8190</td><td class="g">-190</td><td>8170</td><td class="g">-170</td><td>278</td><td class="p"><i style="width:14px"></i><em>15.0%</em></td><td class="p"><i style="width:4px"></i><em>5.0%</em></td><td class="p"><i style="width:10px"></i><em>11.3%</em></td></tr>
<tr><td>山东(一级)</td><td>汇总价(元/吨)</td><td>7920</td><td>7880</td><td class="r">40</td><td>8090</td><td class="g">-170</td><td>8090</td><td class="g">-170</td><td>198</td><td class="p"><i style="width:32px"></i><em>35.0%</em></td><td class="p"><i style="width:11px"></i><em>11.7%</em></td><td class="p"><i style="width:9px"></i><em>10.0%</em></td></tr>
<tr><td>天津(一级)</td><td>汇总价(元/吨)</td><td>7900</td><td>7880</td><td class="r">20</td><td>8080</td><td class="g">-180</td><td>8060</td><td class="g">-160</td><td>178</td><td class="p"><i style="width:23px"></i><em>25.0%</em></td><td class="p"><i style="width:7px"></i><em>8.3%</em></td><td class="p"><i style="width:7px"></i><em>7.5%</em></td></tr>

<tr class="h s"><td class="v" rowspan="6" style="font-weight:normal">玉米</td><td colspan="2">国内市场</td><td>4月11日</td><td>4月10日</td><td>日涨跌</td><td>4月3日</td><td>周涨跌</td><td>3月14日</td><td>月涨跌</td><td>期货</td><td>4月11日</td><td>月度分位</td><td>季度分位</td><td>年度分位</td></tr>
<tr><td>哈尔滨(含水量14%)</td><td>市场价(元/吨)</td><td>2250</td><td>2250</td><td>0</td><td>2250</td><td>0</td><td>2240</td><td class="r">10</td><td class="f" rowspan="2">2394</td><td>-144</td><td class="p"><i style="width:81px"></i><em>90.0%</em></td><td class="p"><i style="width:86px"></i><em>95.0%</em></td><td class="p"><i style="width:22px"></i><em>24.2%</em></td></tr>
<tr><td>长春(含水量14%)</td><td>市场价(元/吨)</td><td>2290</td><td>2290</td><td>0</td><td>2280</td><td class="r">10</td><td>2290</td><td>0</td><td>-104</td><td class="p"><i style="width:86px"></i><em>95.0%</em></td><td class="p"><i style="width:83px"></i><em>91.7%</em></td><td class="p"><i style="width:22px"></i><em>24.6%</em></td></tr>
<tr class="h"><td colspan="2">港口市场</td><td>4月11日</td><td>4月10日</td><td>日涨跌</td><td>4月3日</td><td>周涨跌</td><td>3月14日</td><td>月涨跌</td><td>期货</td><td>4月11日</td><td>月度分位</td><td>季度分位</td><td>年度分位</td></tr>
<tr><td class="sm">鲅鱼圈港(含水量14.5%)</td><td>平仓价(元/吨)</td><td>2380</td><td>2380</td><td>0</td><td>2390</td><td class="g">-10</td><td>2410</td><td class="g">-30</td><td class="f" rowspan="2">2394</td><td>-14</td><td class="p"><i style="width:81px"></i><em>90.0%</em></td><td class="p"><i style="width:77px"></i><em>85.0%</em></td><td class="p"><i style="width:20px"></i><em>21.7%</em></td></tr>
<tr><td class="sm">锦州港(含水量14.5%)</td><td>平仓价(元/吨)</td><td>2385</td><td>2385</td><td>0</td><td>2390</td><td class="g">-5</td><td>2400</td><td class="g">-15</td><td>-9</td><td class="p"><i style="width:90px"></i><em>100.0%</em></td><td class="p"><i style="width:83px"></i><em>91.7%</em></td><td class="p"><i style="width:21px"></i><em>23.3%</em></td></tr>

<tr class="h s"><td class="v" rowspan="5" style="font-weight:normal">棕榈油</td><td colspan="2">国内市场</td><td>4月11日</td><td>4月10日</td><td>日涨跌</td><td>4月3日</td><td>周涨跌</td><td>3月14日</td><td>月涨跌</td><td>期货</td><td>4月11日</td><td>月度分位</td><td>季度分位</td><td>年度分位</td></tr>
<tr><td>广州(熔点24°)</td><td>汇总价(元/吨)</td><td>8380</td><td>8410</td><td class="g">-30</td><td>8630</td><td class="g">-250</td><td>8290</td><td class="r">90</td><td class="f" rowspan="4">7892</td><td>488</td><td class="p"><i style="width:90px"></i><em>100.0%</em></td><td class="p"><i style="width:90px"></i><em>100.0%</em></td><td class="p"><i style="width:78px"></i><em>87.1%</em></td></tr>
<tr><td>江苏(熔点24°)</td><td>汇总价(元/吨)</td><td>8460</td><td>8460</td><td>0</td><td>8630</td><td class="g">-170</td><td>8180</td><td class="r">280</td><td>568</td><td class="p"><i style="width:90px"></i><em>100.0%</em></td><td class="p"><i style="width:90px"></i><em>100.0%</em></td><td class="p"><i style="width:84px"></i><em>93.8%</em></td></tr>
<tr><td>山东(熔点24°)</td><td>汇总价(元/吨)</td><td>8570</td><td>8540</td><td class="r">30</td><td>8800</td><td class="g">-230</td><td>8380</td><td class="r">190</td><td>678</td><td class="p"><i style="width:90px"></i><em>100.0%</em></td><td class="p"><i style="width:90px"></i><em>100.0%</em></td><td class="p"><i style="width:86px"></i><em>95.0%</em></td></tr>
<tr><td>天津(熔点24°)</td><td>汇总价(元/吨)</td><td>8520</td><td>8550</td><td class="g">-30</td><td>8800</td><td class="g">-280</td><td>8340</td><td class="r">180</td><td>628</td><td class="p"><i style="width:90px"></i><em>100.0%</em></td><td class="p"><i style="width:90px"></i><em>100.0%</em></td><td class="p"><i style="width:78px"></i><em>87.1%</em></td></tr>

<tr class="h s"><td class="v" rowspan="3" style="font-weight:normal">菜粕</td><td colspan="2">国内市场</td><td>4月11日</td><td>4月10日</td><td>日涨跌</td><td>4月3日</td><td>周涨跌</td><td>3月14日</td><td>月涨跌</td><td>期货</td><td>4月11日</td><td>月度分位</td><td>季度分位</td><td>年度分位</td></tr>
<tr><td>广东</td><td>现货价(元/吨)</td><td>2620</td><td>2650</td><td class="g">-30</td><td>2625</td><td class="g">-5</td><td>2580</td><td class="r">40</td><td class="f" rowspan="2">2701</td><td>-81</td><td class="p"><i style="width:4px"></i><em>5.0%</em></td><td class="p"><i style="width:3px"></i><em>1.7%</em></td><td class="p"><i style="width:3px"></i><em>2.9%</em></td></tr>
<tr><td>福建</td><td>现货价(元/吨)</td><td>2660</td><td>2670</td><td class="g">-10</td><td>2650</td><td class="r">10</td><td>2610</td><td class="r">50</td><td>-41</td><td class="p"><i style="width:32px"></i><em>35.0%</em></td><td class="p"><i style="width:16px"></i><em>18.3%</em></td><td class="p"><i style="width:4px"></i><em>5.0%</em></td></tr>

<tr class="h s"><td class="v" rowspan="2" style="font-weight:normal">菜油</td><td colspan="2">国内市场</td><td>4月11日</td><td>4月10日</td><td>日涨跌</td><td>4月3日</td><td>周涨跌</td><td>3月14日</td><td>月涨跌</td><td>期货</td><td>4月11日</td><td>月度分位</td><td>季度分位</td><td>年度分位</td></tr>
<tr><td>江苏</td><td>现货价(元/吨)</td><td>8250</td><td>8250</td><td>0</td><td>8370</td><td class="g">-120</td><td>8420</td><td class="g">-170</td><td class="f">8282</td><td>-32</td><td class="p"><i style="width:4px"></i><em>5.0%</em></td><td class="p"><i style="width:3px"></i><em>1.7%</em></td><td class="p"><i style="width:3px"></i><em>0.8%</em></td></tr>
</table>
<div class="abs line" style="top:3854px"></div>
</body></html>
